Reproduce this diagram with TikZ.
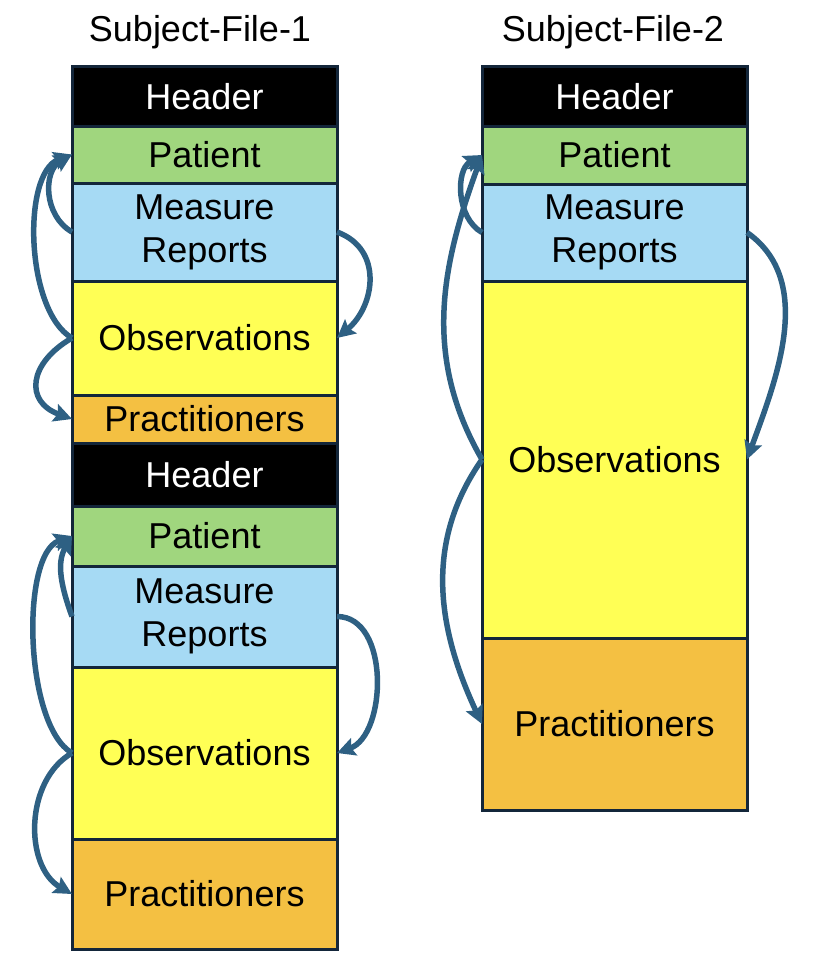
\documentclass[tikz,border=0pt]{standalone}
\usepackage{fontspec}
\setmainfont{Liberation Sans}
\usetikzlibrary{arrows.meta}
\definecolor{bordc}{HTML}{13263A}
\definecolor{arrc}{HTML}{2E6083}
\definecolor{hdrc}{HTML}{000000}
\definecolor{patc}{HTML}{A0D67E}
\definecolor{meac}{HTML}{A6DAF4}
\definecolor{obsc}{HTML}{FFFF55}
\definecolor{prac}{HTML}{F4C042}
\tikzset{
  blk/.style={draw=bordc, line width=3pt, minimum width=265pt, anchor=north west,
    inner sep=0pt, outer sep=0pt, align=center, font=\fontsize{36}{43}\selectfont},
  hdr/.style={blk, fill=hdrc, text=white},
  pat/.style={blk, fill=patc},
  mea/.style={blk, fill=meac},
  obs/.style={blk, fill=obsc},
  pra/.style={blk, fill=prac},
  ttl/.style={font=\fontsize{36}{40}\selectfont},
  arr/.style={draw=arrc, line width=5.5pt, -{Stealth[length=18pt,width=18pt,inset=3pt]}}
}
\begin{document}
\begin{tikzpicture}[x=1pt,y=-1pt]
\useasboundingbox (0,0) rectangle (818,974);
% titles
\node[ttl] (t1) at (200,32) {Subject-File-1};
\node[ttl] (t2) at (613,32) {Subject-File-2};
% left column, first block
\node[hdr, minimum height=59pt] (h1) at (72,67) {Header};
\node[pat, minimum height=57pt] (p1) at (72,126) {Patient};
\node[mea, minimum height=98pt] (m1) at (72,183) {Measure\\Reports};
\node[obs, minimum height=114pt] (o1) at (72,281) {Observations};
\node[pra, minimum height=48pt] (r1) at (72,395) {Practitioners};
% left column, second block
\node[hdr, minimum height=63pt] (h2) at (72,443) {Header};
\node[pat, minimum height=60pt] (p2) at (72,506) {Patient};
\node[mea, minimum height=101pt] (m2) at (72,566) {Measure\\Reports};
\node[obs, minimum height=172pt] (o2) at (72,667) {Observations};
\node[pra, minimum height=110pt] (r2) at (72,839) {Practitioners};
% right column
\node[hdr, minimum height=59pt] (h3) at (482,67) {Header};
\node[pat, minimum height=58pt] (p3) at (482,126) {Patient};
\node[mea, minimum height=97pt] (m3) at (482,184) {Measure\\Reports};
\node[obs, minimum height=357pt] (o3) at (482,281) {Observations};
\node[pra, minimum height=172pt] (r3) at (482,638) {Practitioners};
% arrows, first block
\draw[arr] (m1.west) to[out=150,in=210,looseness=1.1] (p1.west);
\draw[arr] (o1.west) to[out=150,in=200,looseness=0.75] (p1.west);
\draw[arr] (o1.west) to[out=210,in=160,looseness=1.6] (r1.west);
\draw[arr] (m1.east) to[out=-20,in=40,looseness=1.2] (o1.east);
% arrows, second block
\draw[arr] (m2.west) to[out=110,in=240,looseness=1] (p2.west);
\draw[arr] (o2.west) to[out=150,in=200,looseness=0.65] (p2.west);
\draw[arr] (o2.west) to[out=210,in=150,looseness=1] (r2.west);
\draw[arr] (m2.east) to[out=0,in=20,looseness=1] (o2.east);
% arrows, right column
\draw[arr] (m3.west) to[out=150,in=210,looseness=1] (p3.west);
\draw[arr] (o3.west) to[out=120,in=250,looseness=1] (p3.west);
\draw[arr] (o3.west) to[out=235,in=115,looseness=1] (r3.west);
\draw[arr] (m3.east) to[out=-35,in=70,looseness=0.95] (o3.east);
\end{tikzpicture}
\end{document}
